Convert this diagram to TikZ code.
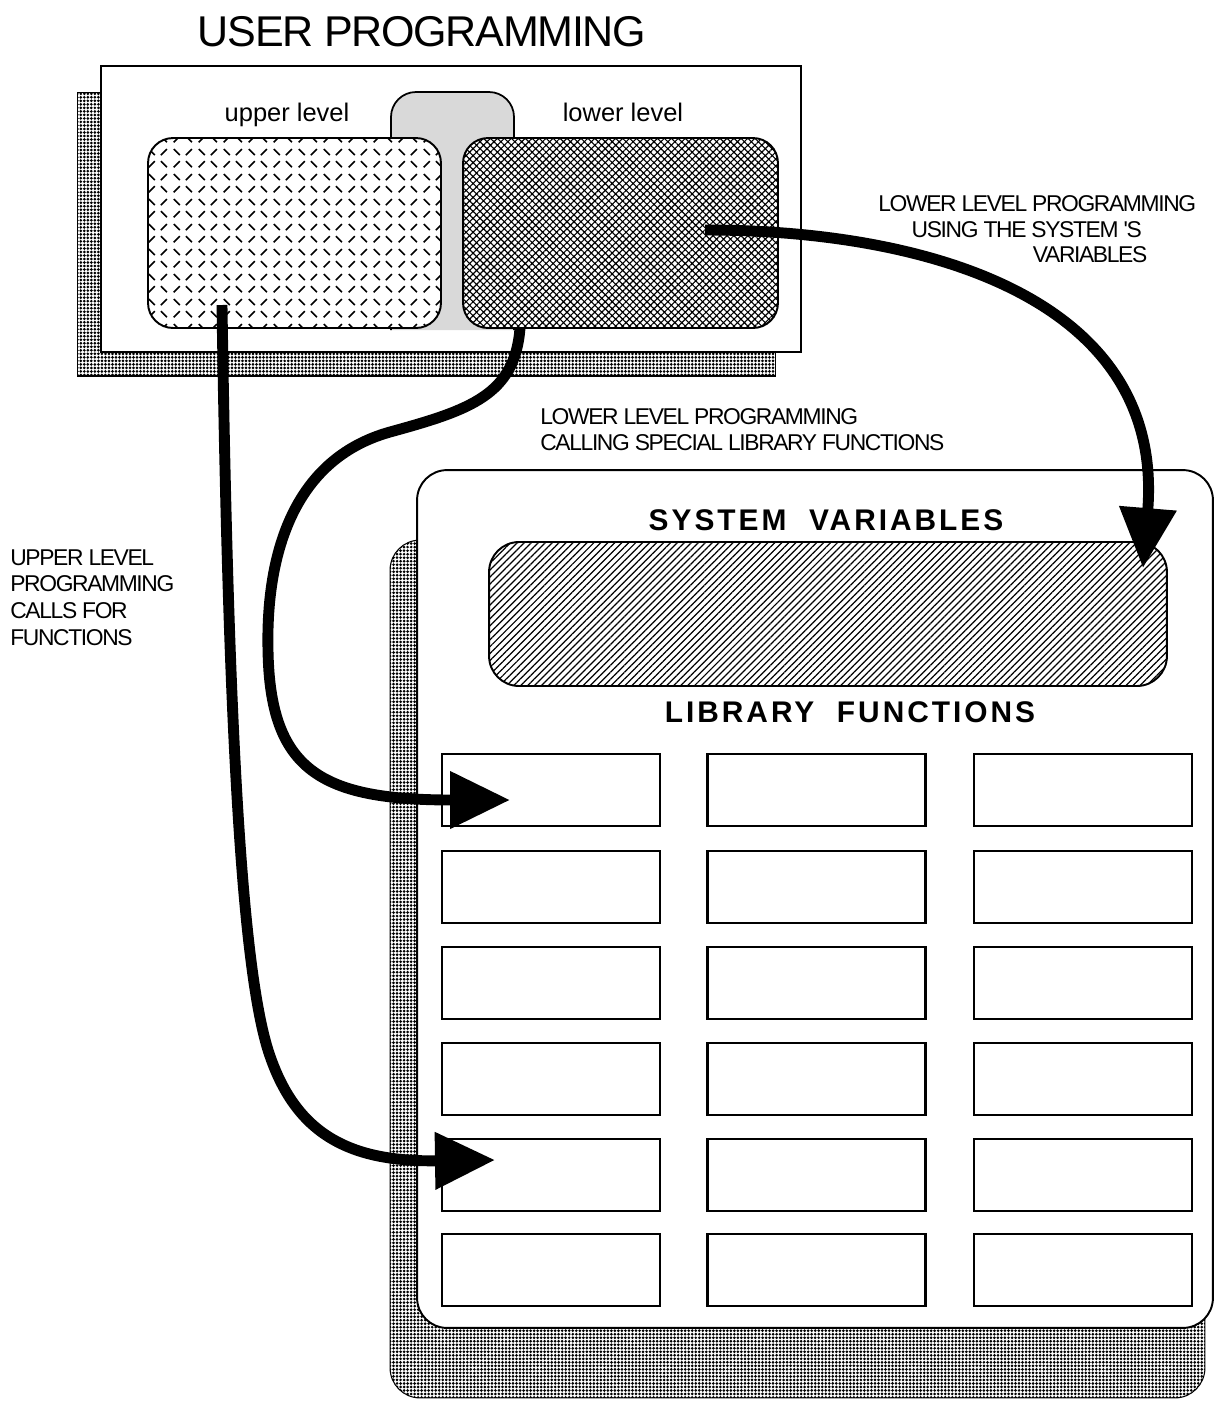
\documentclass[tikz,border=0pt]{standalone}
\usepackage{fontspec}
\setmainfont{Liberation Sans}
\newfontfamily\titlefont[LetterSpace=-3]{Liberation Sans}
\newfontfamily\notefont[LetterSpace=-6]{Liberation Sans}
\newfontfamily\headfont[LetterSpace=10]{Liberation Sans}
\usetikzlibrary{arrows.meta,patterns,patterns.meta,positioning}

% small tick marks for the upper level box
\pgfdeclarepatternformonly{ticks}{\pgfqpoint{0pt}{0pt}}{\pgfqpoint{14pt}{14pt}}{\pgfqpoint{14pt}{14pt}}{%
  \pgfsetlinewidth{0.9pt}
  \pgfpathmoveto{\pgfqpoint{1pt}{1pt}}\pgfpathlineto{\pgfqpoint{4.5pt}{4.5pt}}
  \pgfpathmoveto{\pgfqpoint{8pt}{4.5pt}}\pgfpathlineto{\pgfqpoint{11.5pt}{1pt}}
  \pgfpathmoveto{\pgfqpoint{1pt}{11.5pt}}\pgfpathlineto{\pgfqpoint{4.5pt}{8pt}}
  \pgfpathmoveto{\pgfqpoint{8pt}{8pt}}\pgfpathlineto{\pgfqpoint{11.5pt}{11.5pt}}
  \pgfusepath{stroke}}

\begin{document}
\begin{tikzpicture}[x=0.02cm,y=-0.02cm,
  shadow/.style={draw,line width=0.6pt,pattern={Dots[distance=2pt,radius=0.85pt]}},
  panel/.style={draw,line width=1.1pt,fill=white},
  funcbox/.style={draw,line width=1.5pt,fill=white,minimum width=4.36cm,minimum height=1.44cm},
  call/.style={line width=6.2pt,-{Triangle[length=1.2cm,width=1.1cm]}},
  note/.style={font=\notefont\fontsize{13}{14.7}\selectfont,align=left,anchor=north west,inner sep=0pt},
  heading/.style={font=\headfont\bfseries\fontsize{17}{20}\selectfont,anchor=base}]
\useasboundingbox (0,0) rectangle (1221,1401);

% User programming
\node[font=\titlefont\fontsize{24.5}{28}\selectfont,anchor=base] (title) at (422,46) {USER PROGRAMMING};
\node[shadow,minimum width=13.98cm,minimum height=5.68cm] (ushadow) at (426.5,234) {};
\node[panel,minimum width=14cm,minimum height=5.72cm] (upanel) at (451,209) {};
\draw[line width=1pt,fill=black!15,rounded corners=0.5cm] (391,330) |- (452,92) -| (514,330);
\node[draw,line width=1.1pt,rounded corners=0.5cm,preaction={fill=white},pattern=ticks,
  minimum width=5.86cm,minimum height=3.8cm] (upper) at (294.5,233) {};
\node[draw,line width=1.1pt,rounded corners=0.5cm,preaction={fill=white},
  pattern={Hatch[angle=45,distance=2.8pt,line width=0.65pt]},
  minimum width=6.3cm,minimum height=3.8cm] (lower) at (620.5,233) {};
\node[font=\fontsize{14.5}{17}\selectfont,anchor=base] (upperlbl) at (287,121) {upper level};
\node[font=\fontsize{14.5}{17}\selectfont,anchor=base] (lowerlbl) at (623,121) {lower level};

% System side
\node[shadow,rounded corners=0.6cm,minimum width=16.3cm,minimum height=17.16cm] (lshadow) at (797.5,969) {};
\node[panel,rounded corners=0.6cm,minimum width=15.92cm,minimum height=17.16cm] (lpanel) at (815,899) {};
\node[heading] (systitle) at (826,530) {SYSTEM~~VARIABLES};
\node[draw,line width=1.1pt,rounded corners=0.6cm,
  pattern={Lines[angle=45,distance=2.8pt,line width=0.7pt]},
  minimum width=13.56cm,minimum height=2.88cm] (sysvars) at (828,614) {};
\node[heading] (libtitle) at (850,722) {LIBRARY~~FUNCTIONS};
\foreach \y [count=\r] in {790,887,983,1079,1175,1270}
  \foreach \x [count=\c] in {551,816.5,1083}
    \node[funcbox] (f\r\c) at (\x,\y) {};

% Calls
\coordinate (upStart) at (222,305);
\coordinate (upEnd) at (495,1160);
\coordinate (lowStart) at (520,328);
\coordinate (lowEnd) at (510,800);
\coordinate (varStart) at (705,230);
\coordinate (varEnd) at (1143,568);
\draw[call] (upStart) .. controls (228,700) and (240,960) .. (268,1050)
  .. controls (295,1135) and (350,1162) .. (upEnd);
\draw[call] (lowStart) .. controls (515,395) and (470,410) .. (390,432)
  .. controls (290,460) and (266,560) .. (268,650)
  .. controls (270,770) and (320,800) .. (lowEnd);
\draw[call] (varStart) .. controls (930,230) and (1165,300) .. (varEnd);

% Notes
\node[note] (varnote) at (878,195) {LOWER LEVEL PROGRAMMING\\\hspace*{19pt}USING THE SYSTEM 'S\\\hspace*{88pt}VARIABLES};
\node[note] (libnote) at (540,408) {LOWER LEVEL PROGRAMMING\\CALLING SPECIAL LIBRARY FUNCTIONS};
\node[note,font=\notefont\fontsize{13}{15.3}\selectfont] (callnote) at (10,549) {UPPER LEVEL\\PROGRAMMING\\CALLS FOR\\FUNCTIONS};
\end{tikzpicture}
\end{document}
